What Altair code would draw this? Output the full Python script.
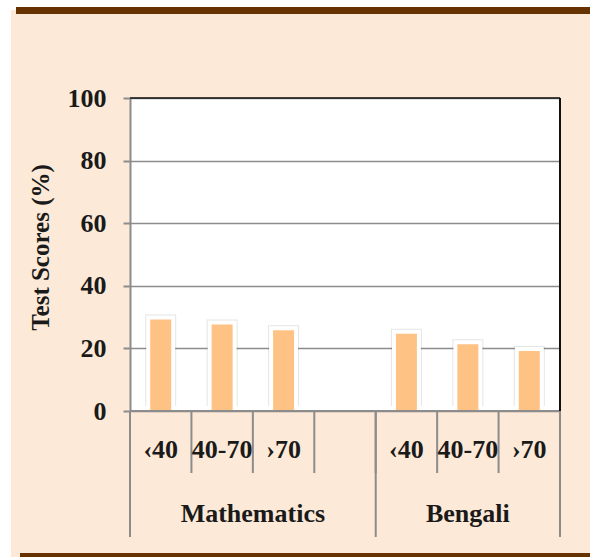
import altair as alt
import pandas as pd

# Test scores by subject and score band
subjects = ["Mathematics", "Mathematics", "Mathematics", "Bengali", "Bengali", "Bengali"]
bands = ["‹40", "40-70", "›70", "‹40", "40-70", "›70"]
scores = [29.2, 27.6, 25.8, 24.7, 21.3, 19.2]

groups = ["Mathematics", "Bengali"]
group_slots = [4, 3]  # Mathematics keeps one empty slot after its three bars
y_ticks = [0, 20, 40, 60, 80, 100]

W, H = 430, 313
FONT = "Liberation Serif"
INK = "#1a1a1a"
GRAY = "#8c8c8c"
BAR = "#FFC285"
PEACH = "#FDE9D7"
BROWN = "#663300"

# slot layout along a continuous x scale
starts = {}
acc = 0
for g, n in zip(groups, group_slots):
    starts[g] = acc
    acc += n
total_slots = acc

pos = []
seen = {}
for s in subjects:
    k = seen.get(s, 0)
    pos.append(starts[s] + k + 0.5)
    seen[s] = k + 1

bars = pd.DataFrame({"subject": subjects, "band": bands, "score": scores, "pos": pos})
bounds = pd.DataFrame({"b": list(range(total_slots + 1))})
group_edges = pd.DataFrame({"b": [starts[g] for g in groups] + [total_slots]})
group_lbl = pd.DataFrame({"group": groups,
                          "c": [starts[g] + n / 2 for g, n in zip(groups, group_slots)]})
one = pd.DataFrame({"k": [0]})

xs = alt.Scale(domain=[0, total_slots], nice=False, zero=False, padding=0)
ys = alt.Scale(domain=[0, 100], nice=False, padding=0)

# page frame: white margin strips and brown bands
def frame_rect(x, x2, y, y2, color):
    return alt.Chart(one).mark_rect(color=color).encode(
        x=alt.value(x), x2=alt.value(x2), y=alt.value(y), y2=alt.value(y2))

frame = alt.layer(
    frame_rect(-130, -119, -98, H + 146, "white"),
    frame_rect(-130, W + 30, -98, -88, "white"),
    frame_rect(-114, W + 30, -91, -84, BROWN),
    frame_rect(-110, W + 30, 455, H + 146, BROWN),
)

y_axis = alt.Axis(
    values=y_ticks, tickSize=7, tickColor=GRAY, tickWidth=2,
    domainColor=GRAY, domainWidth=2,
    grid=True, gridColor=GRAY, gridWidth=1.5,
    labelFont=FONT, labelFontSize=26, labelFontWeight="bold", labelColor=INK,
    labelPadding=17,
    title="Test Scores (%)", titleFont=FONT, titleFontSize=25,
    titleFontWeight="bold", titleColor=INK, titleY=149, titlePadding=14,
)

base = alt.Chart(bars)
shadow = base.mark_bar(size=31, color="#000000", opacity=0.1, yOffset=-5, y2Offset=2).encode(
    x=alt.X("pos:Q", scale=xs, axis=None),
    y=alt.Y("score:Q", scale=ys, axis=y_axis),
)
backing = base.mark_bar(size=29, color="white", yOffset=-4).encode(
    x=alt.X("pos:Q", scale=xs, axis=None),
    y=alt.Y("score:Q", scale=ys),
)
fill = base.mark_bar(size=21, color=BAR).encode(
    x=alt.X("pos:Q", scale=xs, axis=None),
    y=alt.Y("score:Q", scale=ys),
)

# plot border: gray bottom, black top and right
bottom_line = alt.Chart(one).mark_rule(color=GRAY, strokeWidth=2).encode(
    x=alt.value(0), x2=alt.value(W), y=alt.value(H))
top_line = alt.Chart(one).mark_rule(color="#111111", strokeWidth=1.5).encode(
    x=alt.value(0), x2=alt.value(W), y=alt.value(0))
right_line = alt.Chart(one).mark_rule(color="#111111", strokeWidth=2).encode(
    x=alt.value(W), y=alt.value(0), y2=alt.value(H))

# two-level category axis
short_ticks = alt.Chart(bounds).mark_rule(color=GRAY, strokeWidth=2).encode(
    x=alt.X("b:Q", scale=xs, axis=None), y=alt.value(H), y2=alt.value(H + 62))
long_ticks = alt.Chart(group_edges).mark_rule(color=GRAY, strokeWidth=2).encode(
    x=alt.X("b:Q", scale=xs, axis=None), y=alt.value(H), y2=alt.value(H + 126))
band_text = base.mark_text(font=FONT, fontSize=26, fontWeight="bold", color=INK,
                           baseline="middle").encode(
    x=alt.X("pos:Q", scale=xs, axis=None), y=alt.value(H + 39), text="band:N")
group_text = alt.Chart(group_lbl).mark_text(font=FONT, fontSize=26, fontWeight="bold",
                                            color=INK, baseline="middle").encode(
    x=alt.X("c:Q", scale=xs, axis=None), y=alt.value(H + 103), text="group:N")

chart = alt.layer(
    frame, shadow, backing, fill, bottom_line, top_line, right_line,
    short_ticks, long_ticks, band_text, group_text,
).properties(
    width=W, height=H,
    autosize=alt.AutoSizeParams(type="none"),
    padding={"left": 130, "top": 98, "right": 30, "bottom": 146},
    background=PEACH,
).configure_view(fill="white", strokeWidth=0)

chart.save("out.html", embed_options={"renderer": "svg", "actions": False})
